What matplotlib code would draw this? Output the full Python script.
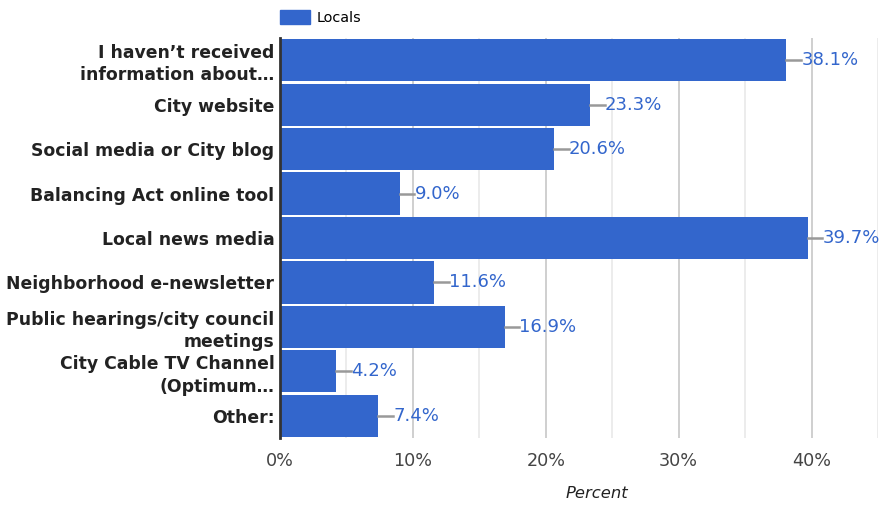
import matplotlib
matplotlib.use("Agg")
import matplotlib.pyplot as plt
from matplotlib.patches import Patch

plt.rcParams["font.family"] = ["DejaVu Sans"]

categories = [
    "I haven\u2019t received\ninformation about\u2026",
    "City website",
    "Social media or City blog",
    "Balancing Act online tool",
    "Local news media",
    "Neighborhood e-newsletter",
    "Public hearings/city council\nmeetings",
    "City Cable TV Channel\n(Optimum\u2026",
    "Other:",
]
values = [38.1, 23.3, 20.6, 9.0, 39.7, 11.6, 16.9, 4.2, 7.4]
xticks = [0, 10, 20, 30, 40]
xtick_labels = ["0%", "10%", "20%", "30%", "40%"]
minor_ticks = [5, 15, 25, 35, 45]

BLUE = "#3366cc"

W, H = 881, 505
fig = plt.figure(figsize=(W / 100, H / 100), dpi=100)
ax = fig.add_axes([280 / W, 1 - 438 / H, 598 / W, 400 / H])

ypos = list(range(len(categories)))
ax.barh(ypos, values, height=0.95, color=BLUE, zorder=3)
ax.set_ylim(len(categories) - 0.5, -0.5)
ax.set_xlim(0, 45)

for x in xticks[1:]:
    ax.axvline(x, color="#cccccc", lw=1.3, zorder=1)
for x in minor_ticks:
    ax.axvline(x, color="#ebebeb", lw=1.3, zorder=1)

# value labels with short leader lines
for y, v in zip(ypos, values):
    ax.plot([v, v + 1.12], [y, y], color="#999999", lw=1.8, zorder=4)
    ax.text(v + 1.12, y, f"{v:.1f}%", va="center", ha="left",
            fontsize=13, color=BLUE, zorder=5)

ax.set_yticks(ypos)
ax.set_yticklabels(categories, fontsize=12.4, fontweight="bold",
                   color="#222222", linespacing=1.3)
ax.set_xticks(xticks)
ax.set_xticklabels(xtick_labels, fontsize=12.7, color="#444444")
ax.tick_params(axis="both", length=0)
ax.tick_params(axis="y", pad=4)
ax.tick_params(axis="x", pad=10)

for s in ["top", "right", "bottom"]:
    ax.spines[s].set_visible(False)
ax.spines["left"].set_color("#333333")
ax.spines["left"].set_linewidth(2)
ax.spines["left"].set_zorder(6)

fig.text(597 / W, 1 - 494 / H, "Percent", ha="center", va="center",
         fontsize=11.8, style="italic", color="#222222")

fig.legend(handles=[Patch(color=BLUE, label="Locals")],
           loc="upper left", bbox_to_anchor=(270 / W, 1.0), frameon=False,
           fontsize=10.4, handlelength=2.1, handleheight=1.1,
           handletextpad=0.4, borderaxespad=0.3)

fig.savefig("out.png", dpi=100)
